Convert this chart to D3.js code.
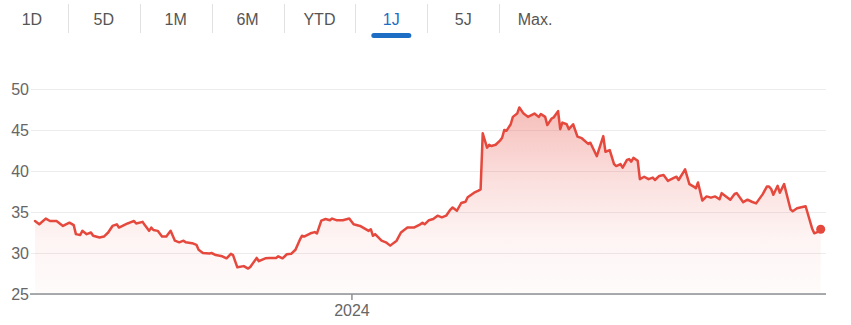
<!DOCTYPE html>
<html>
<head>
<meta charset="utf-8">
<script src="https://cdn.jsdelivr.net/npm/d3@7"></script>
<style>
  html, body { margin: 0; padding: 0; background: #fff; }
  svg { display: block; font-family: "Liberation Sans", Arial, sans-serif; }
</style>
</head>
<body>
<div id="chart"></div>
<script>
// ── data ──────────────────────────────────────────────
const tabLabels = ['1D', '5D', '1M', '6M', 'YTD', '1J', '5J', 'Max.'];
const activeTab = '1J';
const yTicks = [25, 30, 35, 40, 45, 50];
const xTickDates = ['2024-01-01'];
const startDate = '2023-08-07';

// [days since startDate, close]
const priceSeries = [
     [0, 33.9], [2, 33.5], [5, 34.2], [7, 33.9], [10, 33.9], [13, 33.3], [16, 33.7], [18, 33.4], [19, 32.3], [21, 32.2],
     [22, 32.7], [24, 32.3], [26, 32.5], [27, 32.1], [30, 31.9], [32, 32.0], [34, 32.5], [36, 33.3], [38, 33.5], [39, 33.1],
     [43, 33.6], [44, 33.7], [46, 33.9], [47, 33.6], [50, 33.8], [51, 33.4], [53, 32.7], [54, 33.1], [55, 32.8], [57, 32.7],
     [59, 32.0], [61, 32.0], [63, 32.7], [65, 31.5], [67, 31.3], [69, 31.5], [70, 31.3], [73, 31.2], [75, 31.0], [76, 30.4],
     [78, 30.0], [81, 29.95], [82, 30.0], [84, 29.75], [87, 29.6], [89, 29.35], [91, 29.9], [92, 29.75], [94, 28.25], [97, 28.4],
     [99, 28.1], [100, 28.3], [103, 29.4], [104, 29.0], [107, 29.35], [109, 29.4], [112, 29.4], [113, 29.6], [115, 29.35], [117, 29.85],
     [119, 29.9], [121, 30.4], [123, 31.6], [124, 32.1], [125, 32.0], [128, 32.4], [130, 32.55], [131, 32.4], [133, 33.95], [135, 34.15],
     [137, 34.0], [138, 34.2], [140, 34.0], [143, 34.0], [146, 34.2], [148, 33.5], [151, 33.3], [153, 33.0], [155, 32.7], [156, 32.9],
     [157, 32.1], [158, 32.3], [161, 31.5], [163, 31.3], [165, 30.9], [168, 31.5], [170, 32.5], [173, 33.1], [176, 33.1], [179, 33.5],
     [180, 33.7], [181, 33.5], [183, 34.0], [185, 34.15], [187, 34.55], [189, 34.35], [191, 34.55], [193, 35.3], [194, 35.55], [196, 35.15],
     [198, 36.1], [200, 36.25], [201, 36.8], [204, 37.35], [206, 37.6], [207, 37.75], [208, 44.6], [210, 42.85], [211, 43.2], [212, 43.05],
     [214, 43.2], [216, 43.7], [217, 44.05], [218, 45.0], [219, 44.9], [221, 45.7], [222, 46.6], [224, 47.0], [225, 47.75], [227, 47.0],
     [229, 46.6], [232, 47.0], [234, 46.6], [235, 46.95], [237, 46.6], [238, 45.6], [240, 46.4], [241, 46.55], [243, 47.3], [244, 45.1],
     [245, 45.9], [247, 45.7], [248, 45.1], [250, 45.7], [252, 44.2], [254, 44.0], [257, 43.3], [258, 43.45], [261, 41.8], [264, 44.25],
     [265, 42.35], [267, 42.55], [269, 40.85], [270, 40.6], [272, 40.85], [273, 40.4], [275, 41.35], [276, 41.45], [277, 41.15], [278, 41.6],
     [280, 41.25], [281, 39.0], [283, 39.3], [285, 39.0], [287, 39.2], [288, 38.9], [290, 39.4], [292, 39.5], [294, 38.8], [297, 39.2],
     [298, 39.3], [299, 38.9], [302, 40.2], [304, 38.4], [306, 38.1], [307, 37.9], [308, 38.6], [310, 36.4], [312, 36.9], [314, 36.75],
     [316, 36.9], [318, 36.55], [319, 37.3], [321, 36.9], [323, 36.5], [325, 37.2], [326, 37.3], [329, 36.2], [331, 36.5], [333, 36.25],
     [335, 36.05], [338, 37.15], [340, 38.1], [341, 38.1], [342, 37.8], [343, 37.1], [345, 38.2], [346, 37.35], [348, 38.4], [351, 35.3],
     [352, 35.1], [354, 35.45], [358, 35.7], [361, 33.0], [362, 32.4], [364, 32.6], [365, 32.9]
];

// ── setup ─────────────────────────────────────────────
const W = 851, H = 325;
const RED = '#e5483d', BLUE = '#1d6dc4';
const plot = { left: 31, right: 826, top: 89, bottom: 294 };

const day0 = new Date(startDate + 'T00:00:00Z').getTime();
const toDate = d => new Date(day0 + d * 864e5);
const data = priceSeries.map(([d, v]) => ({ date: toDate(d), value: v }));

const svg = d3.select('#chart').append('svg').attr('width', W).attr('height', H);

// ── range tabs ────────────────────────────────────────
const tabScl = d3.scaleBand().domain(tabLabels).range([-4, 571]);
const tabs = svg.append('g').attr('class', 'tabs');
tabs.selectAll('line')
     .data(tabLabels.slice(1))
     .join('line')
     .attr('x1', d => Math.round(tabScl(d)) + 0.5).attr('x2', d => Math.round(tabScl(d)) + 0.5)
     .attr('y1', 4).attr('y2', 33)
     .attr('stroke', '#e1e1e1');
tabs.selectAll('text')
     .data(tabLabels)
     .join('text')
     .attr('x', d => tabScl(d) + tabScl.bandwidth() / 2)
     .attr('y', 25)
     .attr('text-anchor', 'middle')
     .attr('font-size', '16px')
     .attr('fill', d => d === activeTab ? BLUE : '#555')
     .text(d => d);
tabs.append('rect')
     .attr('x', tabScl(activeTab) + tabScl.bandwidth() / 2 - 20)
     .attr('y', 33).attr('width', 40).attr('height', 5).attr('rx', 2.5)
     .attr('fill', BLUE);

// ── scales ────────────────────────────────────────────
const x = d3.scaleUtc().domain([toDate(0), toDate(365)]).range([35, 820.7]);
const y = d3.scaleLinear().domain([25, 50]).range([plot.bottom, plot.top]);

// gradient for the area
const grad = svg.append('defs').append('linearGradient')
     .attr('id', 'area-grad').attr('gradientUnits', 'userSpaceOnUse')
     .attr('x1', 0).attr('x2', 0).attr('y1', y(48)).attr('y2', y(25));
[[0, 0.36], [0.4, 0.17], [0.7, 0.06], [1, 0.02]].forEach(([o, a]) =>
     grad.append('stop').attr('offset', o).attr('stop-color', RED).attr('stop-opacity', a));

// ── y axis + grid ─────────────────────────────────────
const yAxis = svg.append('g')
     .attr('transform', `translate(${plot.left},0)`)
     .call(d3.axisLeft(y).tickValues(yTicks).tickSize(-(plot.right - plot.left)).tickPadding(2));
yAxis.select('.domain').remove();
yAxis.selectAll('line').attr('stroke', '#ececec');
yAxis.selectAll('text').attr('font-size', '16px').attr('fill', '#666')
     .attr('font-family', '"Liberation Sans", Arial, sans-serif');

// ── area + line ───────────────────────────────────────
svg.append('path')
     .datum(data)
     .attr('fill', 'url(#area-grad)')
     .attr('d', d3.area().x(d => x(d.date)).y0(plot.bottom).y1(d => y(d.value)));

svg.append('path')
     .datum(data)
     .attr('fill', 'none')
     .attr('stroke', RED).attr('stroke-width', 2.5)
     .attr('stroke-linejoin', 'round').attr('stroke-linecap', 'round')
     .attr('d', d3.line().x(d => x(d.date)).y(d => y(d.value)));

const last = data[data.length - 1];
svg.append('circle')
     .attr('cx', x(last.date)).attr('cy', y(last.value)).attr('r', 4.5)
     .attr('fill', RED);

// ── x axis ────────────────────────────────────────────
svg.append('line')
     .attr('x1', plot.left - 1).attr('x2', plot.right)
     .attr('y1', plot.bottom).attr('y2', plot.bottom)
     .attr('stroke', '#8c9094').attr('stroke-width', 1.5);

const xAxis = svg.append('g')
     .attr('transform', `translate(0,${plot.bottom})`)
     .call(d3.axisBottom(x)
          .tickValues(xTickDates.map(s => new Date(s + 'T00:00:00Z')))
          .tickFormat(d3.utcFormat('%Y'))
          .tickSize(6).tickPadding(5));
xAxis.select('.domain').remove();
xAxis.selectAll('line').attr('stroke', '#8c9094').attr('stroke-width', 1.5);
xAxis.selectAll('text').attr('font-size', '16px').attr('fill', '#666')
     .attr('font-family', '"Liberation Sans", Arial, sans-serif');
</script>
</body>
</html>
